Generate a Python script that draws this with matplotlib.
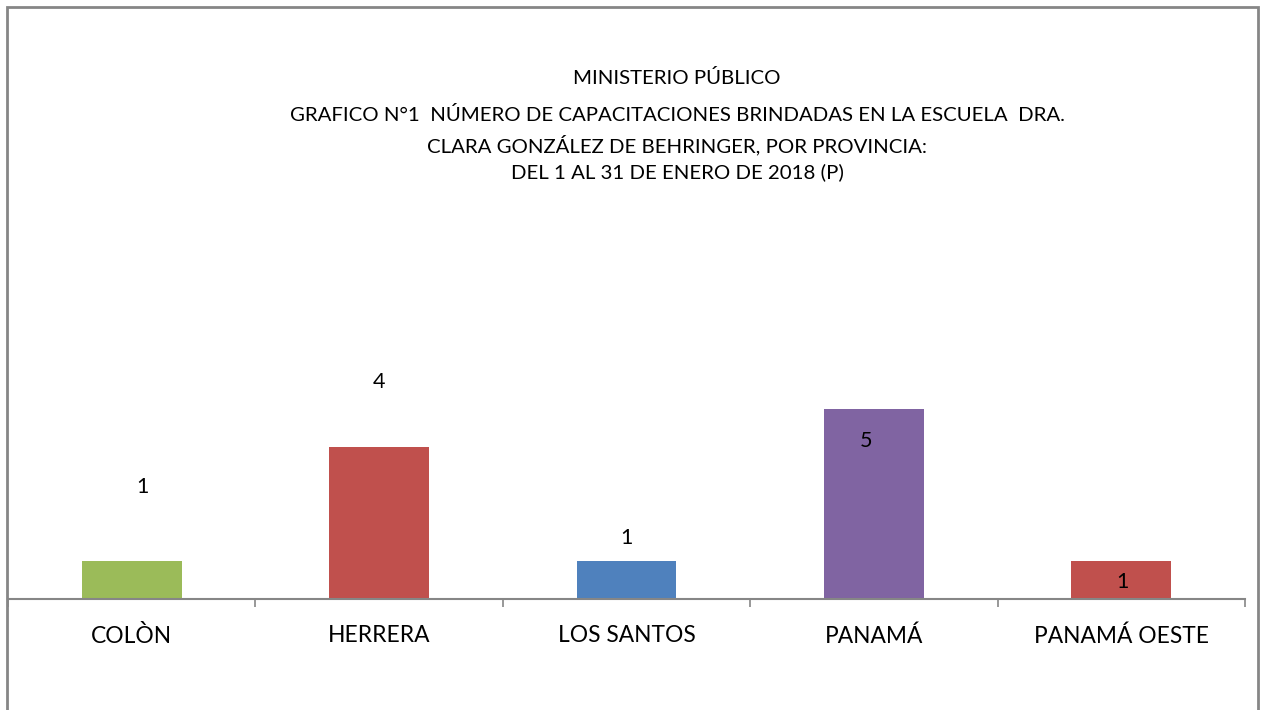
import matplotlib
matplotlib.use('Agg')
import matplotlib.pyplot as plt
from matplotlib.patches import Rectangle

# data
provincias = ['COLÒN', 'HERRERA', 'LOS SANTOS', 'PANAMÁ', 'PANAMÁ OESTE']
capacitaciones = [1, 4, 1, 5, 1]
colores = ['#9BBB59', '#C0504D', '#4F81BD', '#8064A2', '#C0504D']
titulo = ['MINISTERIO PÚBLICO',
          'GRAFICO N°1  NÚMERO DE CAPACITACIONES BRINDADAS EN LA ESCUELA  DRA.',
          'CLARA GONZÁLEZ DE BEHRINGER, POR PROVINCIA:',
          'DEL 1 AL 31 DE ENERO DE 2018 (P)']

# label offsets from bar top (data units), the labels were moved by hand
label_dy = [1.95, 1.71, 0.6, -0.84, -0.55]
label_dx = [0.045, 0.0, 0.0, -0.03, 0.005]

plt.rcParams['font.family'] = ['Lato', 'DejaVu Sans']

fig = plt.figure(figsize=(12.62, 7.10), dpi=100)
W, H = 1262, 710

# outer frame
fig.patches.append(Rectangle((7 / W, -0.05), (1258 - 7) / W, 1.05 - 7 / H,
                             transform=fig.transFigure, fill=False,
                             edgecolor='#868686', linewidth=2))

ax = fig.add_axes([8 / W, 1 - 599 / H, (1245 - 8) / W, (599 - 200) / H])
x = range(len(provincias))
ax.bar(x, capacitaciones, width=0.404, color=colores)
ax.set_xlim(-0.5, 4.5)
ax.set_ylim(0, 399 / 38)

for i, v in enumerate(capacitaciones):
    ax.text(i + label_dx[i], v + label_dy[i], str(v), ha='center', va='center',
            fontsize=15.5)

for s in ['left', 'right', 'top']:
    ax.spines[s].set_visible(False)
ax.spines['bottom'].set_color('#868686')
ax.spines['bottom'].set_linewidth(1.5)
ax.set_yticks([])
ax.set_xticks(list(x))
ax.set_xticklabels(provincias, fontsize=16.4)
ax.tick_params(axis='x', which='major', length=0, pad=19)
ax.set_xticks([i - 0.5 for i in range(len(provincias) + 1)], minor=True)
ax.tick_params(axis='x', which='minor', length=6, width=1.2, color='#868686')

title_y = [78, 115, 145, 172]
for t, yy in zip(titulo, title_y):
    fig.text(677 / W, 1 - yy / H, t, ha='center', va='center', fontsize=14.7)

fig.savefig('out.png', dpi=100, facecolor='white')
